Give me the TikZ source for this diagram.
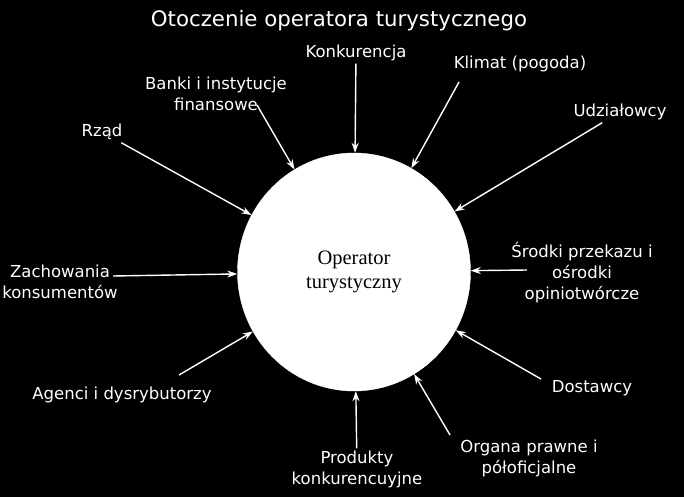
\documentclass[tikz,border=0pt]{standalone}
\usepackage{tikz}
\usepackage{xcolor}
\usepackage{fontspec}
\setmainfont{DejaVu Sans}
\newfontfamily\opfont{Liberation Serif}
\usetikzlibrary{shapes, arrows.meta, calc, positioning}

\begin{document}
\begin{tikzpicture}[x = 1pt, y = -1pt,
                lbl/.style = {text = white, align = center, inner sep = 0pt, anchor = north, yshift = 14.7pt,
                        font = \fontsize{16.5}{21}\selectfont},
                arr/.style = {draw = white, line width = 1.4pt, -{Stealth[length = 10pt, width = 7pt]}}]%{{{
                \fill [black] (0, 0) rectangle (684, 497);
                \useasboundingbox (0, 0) rectangle (684, 497);

                \node (Tytul) [text = white, anchor = base, font = \fontsize{21.3}{25}\selectfont] at (339, 27) {Otoczenie operatora turystycznego};
                \node (Op) [draw = white, fill = white, ellipse, minimum width = 233pt, minimum height = 238pt, inner sep = 0pt,
                        align = center, font = \opfont\fontsize{20.5}{24}\selectfont] at (354, 272) {Operator\\turystyczny};

                \node (Konk) [lbl] at (356, 57) {\strut Konkurencja};
                \node (Klimat) [lbl] at (520, 68) {\strut Klimat (pogoda)};
                \node (Udz) [lbl] at (620, 116) {\strut Udziałowcy};
                \node (Srodki) [lbl] at (582, 257) {\strut Środki przekazu i\\ośrodki\\opiniotwórcze};
                \node (Dost) [lbl] at (592, 392) {\strut Dostawcy};
                \node (Organa) [lbl] at (529, 452) {\strut Organa prawne i\\półoficjalne};
                \node (Prod) [lbl] at (357, 463) {\strut Produkty\\konkurencuyjne};
                \node (Agenci) [lbl] at (122, 399) {\strut Agenci i dysrybutorzy};
                \node (Zach) [lbl] at (60, 277) {\strut Zachowania\\konsumentów};
                \node (Rzad) [lbl] at (102, 136) {\strut Rząd};
                \node (Banki) [lbl] at (216, 89) {\strut Banki i instytucje\\finansowe};

                \coordinate (Klimat-t) at (459, 82);
                \coordinate (Srodki-t) at (527, 270);
                \coordinate (Dost-t) at (541, 379);
                \coordinate (Organa-t) at (450, 435);
                \coordinate (Agenci-t) at (179, 375);
                \coordinate (Zach-t) at (113, 276);
                \coordinate (Banki-t) at (257, 105);

                \draw [arr] (Konk) -- (Op);
                \draw [arr] (Klimat-t) -- (Op);
                \draw [arr] (Udz) -- (Op);
                \draw [arr] (Srodki-t) -- (Op);
                \draw [arr] (Dost-t) -- (Op);
                \draw [arr] (Organa-t) -- (Op);
                \draw [arr] (Prod) -- (Op);
                \draw [arr] (Agenci-t) -- (Op);
                \draw [arr] (Zach-t) -- (Op);
                \draw [arr] (Rzad) -- (Op);
                \draw [arr] (Banki-t) -- (Op);
            \end{tikzpicture}
\end{document}
